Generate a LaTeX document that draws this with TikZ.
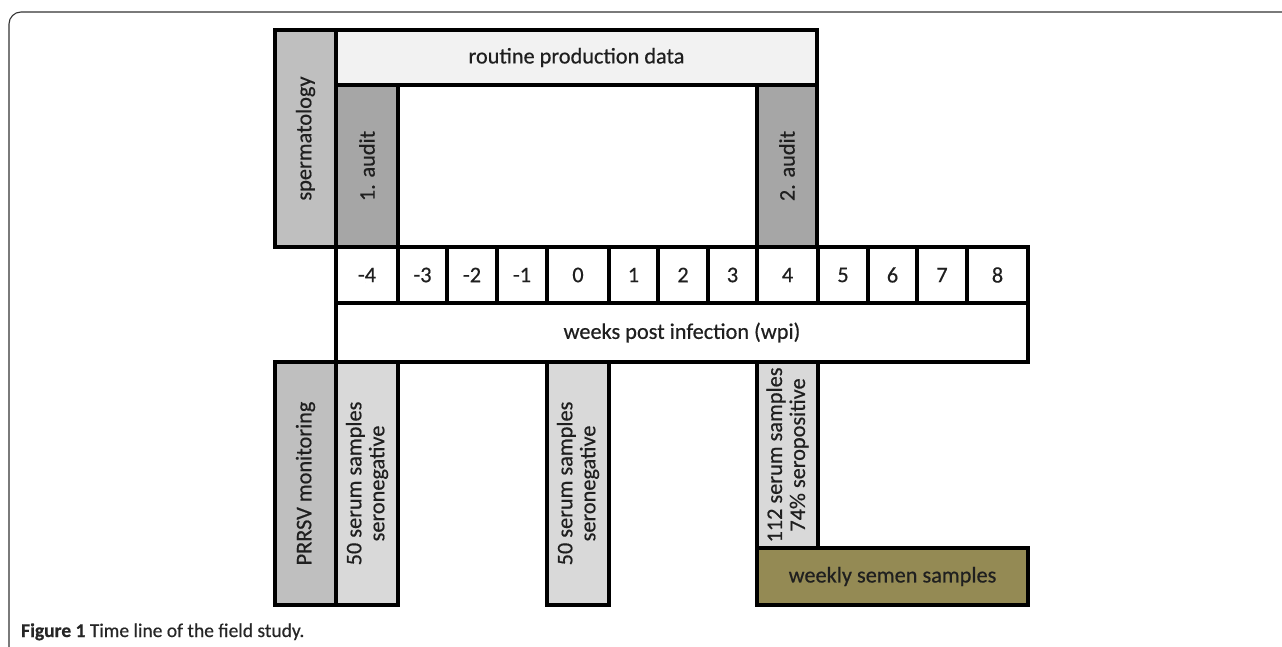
\documentclass[tikz,border=0pt]{standalone}
\usepackage{fontspec}
\setmainfont{Carlito}
\newfontfamily\boxfont[FakeBold=0.5]{Carlito}
\definecolor{spermgray}{HTML}{BFBFBF}
\definecolor{routinegray}{HTML}{F2F2F2}
\definecolor{auditgray}{HTML}{A6A6A6}
\definecolor{serumgray}{HTML}{D9D9D9}
\definecolor{semenolive}{HTML}{948A54}

\begin{document}
\begin{tikzpicture}[x=1pt, y=-1pt,
  cell/.style={draw=black, line width=3.2pt, inner sep=0pt, text=black!88,
    font=\boxfont\fontsize{22.3}{23}\selectfont, align=center},
  upcell/.style={cell, rotate=90}]

  \useasboundingbox (0,0) rectangle (1282,647);
  % outer frame of the figure
  \draw[line width=1.1pt, black!80, rounded corners=12pt] (9,700) -- (9,12) -- (1320,12);

  % spermatology block
  \node[upcell, fill=spermgray, minimum width=217, minimum height=61] (sperm) at (305.5,138.5) {spermatology};
  \node[cell, fill=routinegray, minimum width=481, minimum height=55] (routine) at (576.5,57.5) {routine production data};
  \node[upcell, fill=auditgray, minimum width=162, minimum height=62] (auditA) at (367,166) {1. audit};
  \node[upcell, fill=auditgray, minimum width=162, minimum height=60] (auditB) at (787,166) {2. audit};

  % time line
  \foreach \a/\b/\lab [count=\i] in {336/398/-4, 398/447/-3, 447/497/-2, 497/547/-1,
      547/609/0, 609/658/1, 658/708/2, 708/757/3, 757/818/4, 818/868/5,
      868/917/6, 917/967/7, 967/1028/8}
    \node[cell, fill=white, minimum width=\b-\a, minimum height=56] (week\i) at ({(\a+\b)/2},275) {\lab};
  \node[cell, fill=white, minimum width=692, minimum height=59] (wpi) at (682,332.5) {weeks post infection (wpi)};

  % PRRSV monitoring
  \node[upcell, fill=spermgray, minimum width=243, minimum height=61] (prrsv) at (305.5,483.5) {PRRSV monitoring};
  \node[upcell, fill=serumgray, minimum width=243, minimum height=62] (serumA) at (367,483.5) {50 serum samples\\seronegative};
  \node[upcell, fill=serumgray, minimum width=243, minimum height=62] (serumB) at (578,483.5) {50 serum samples\\seronegative};
  \node[upcell, fill=serumgray, minimum width=186, minimum height=61] (serumC) at (787.5,455) {112 serum samples\\74\% seropositive};
  \node[cell, fill=semenolive, minimum width=271, minimum height=57] (semen) at (892.5,576.5) {weekly semen samples};

  \node[anchor=base west, inner sep=0pt, text=black!85, font=\boxfont\fontsize{19.5}{20}\selectfont] (caption) at (21,637)
    {\textbf{Figure 1} Time line of the field study.};

\end{tikzpicture}
\end{document}
